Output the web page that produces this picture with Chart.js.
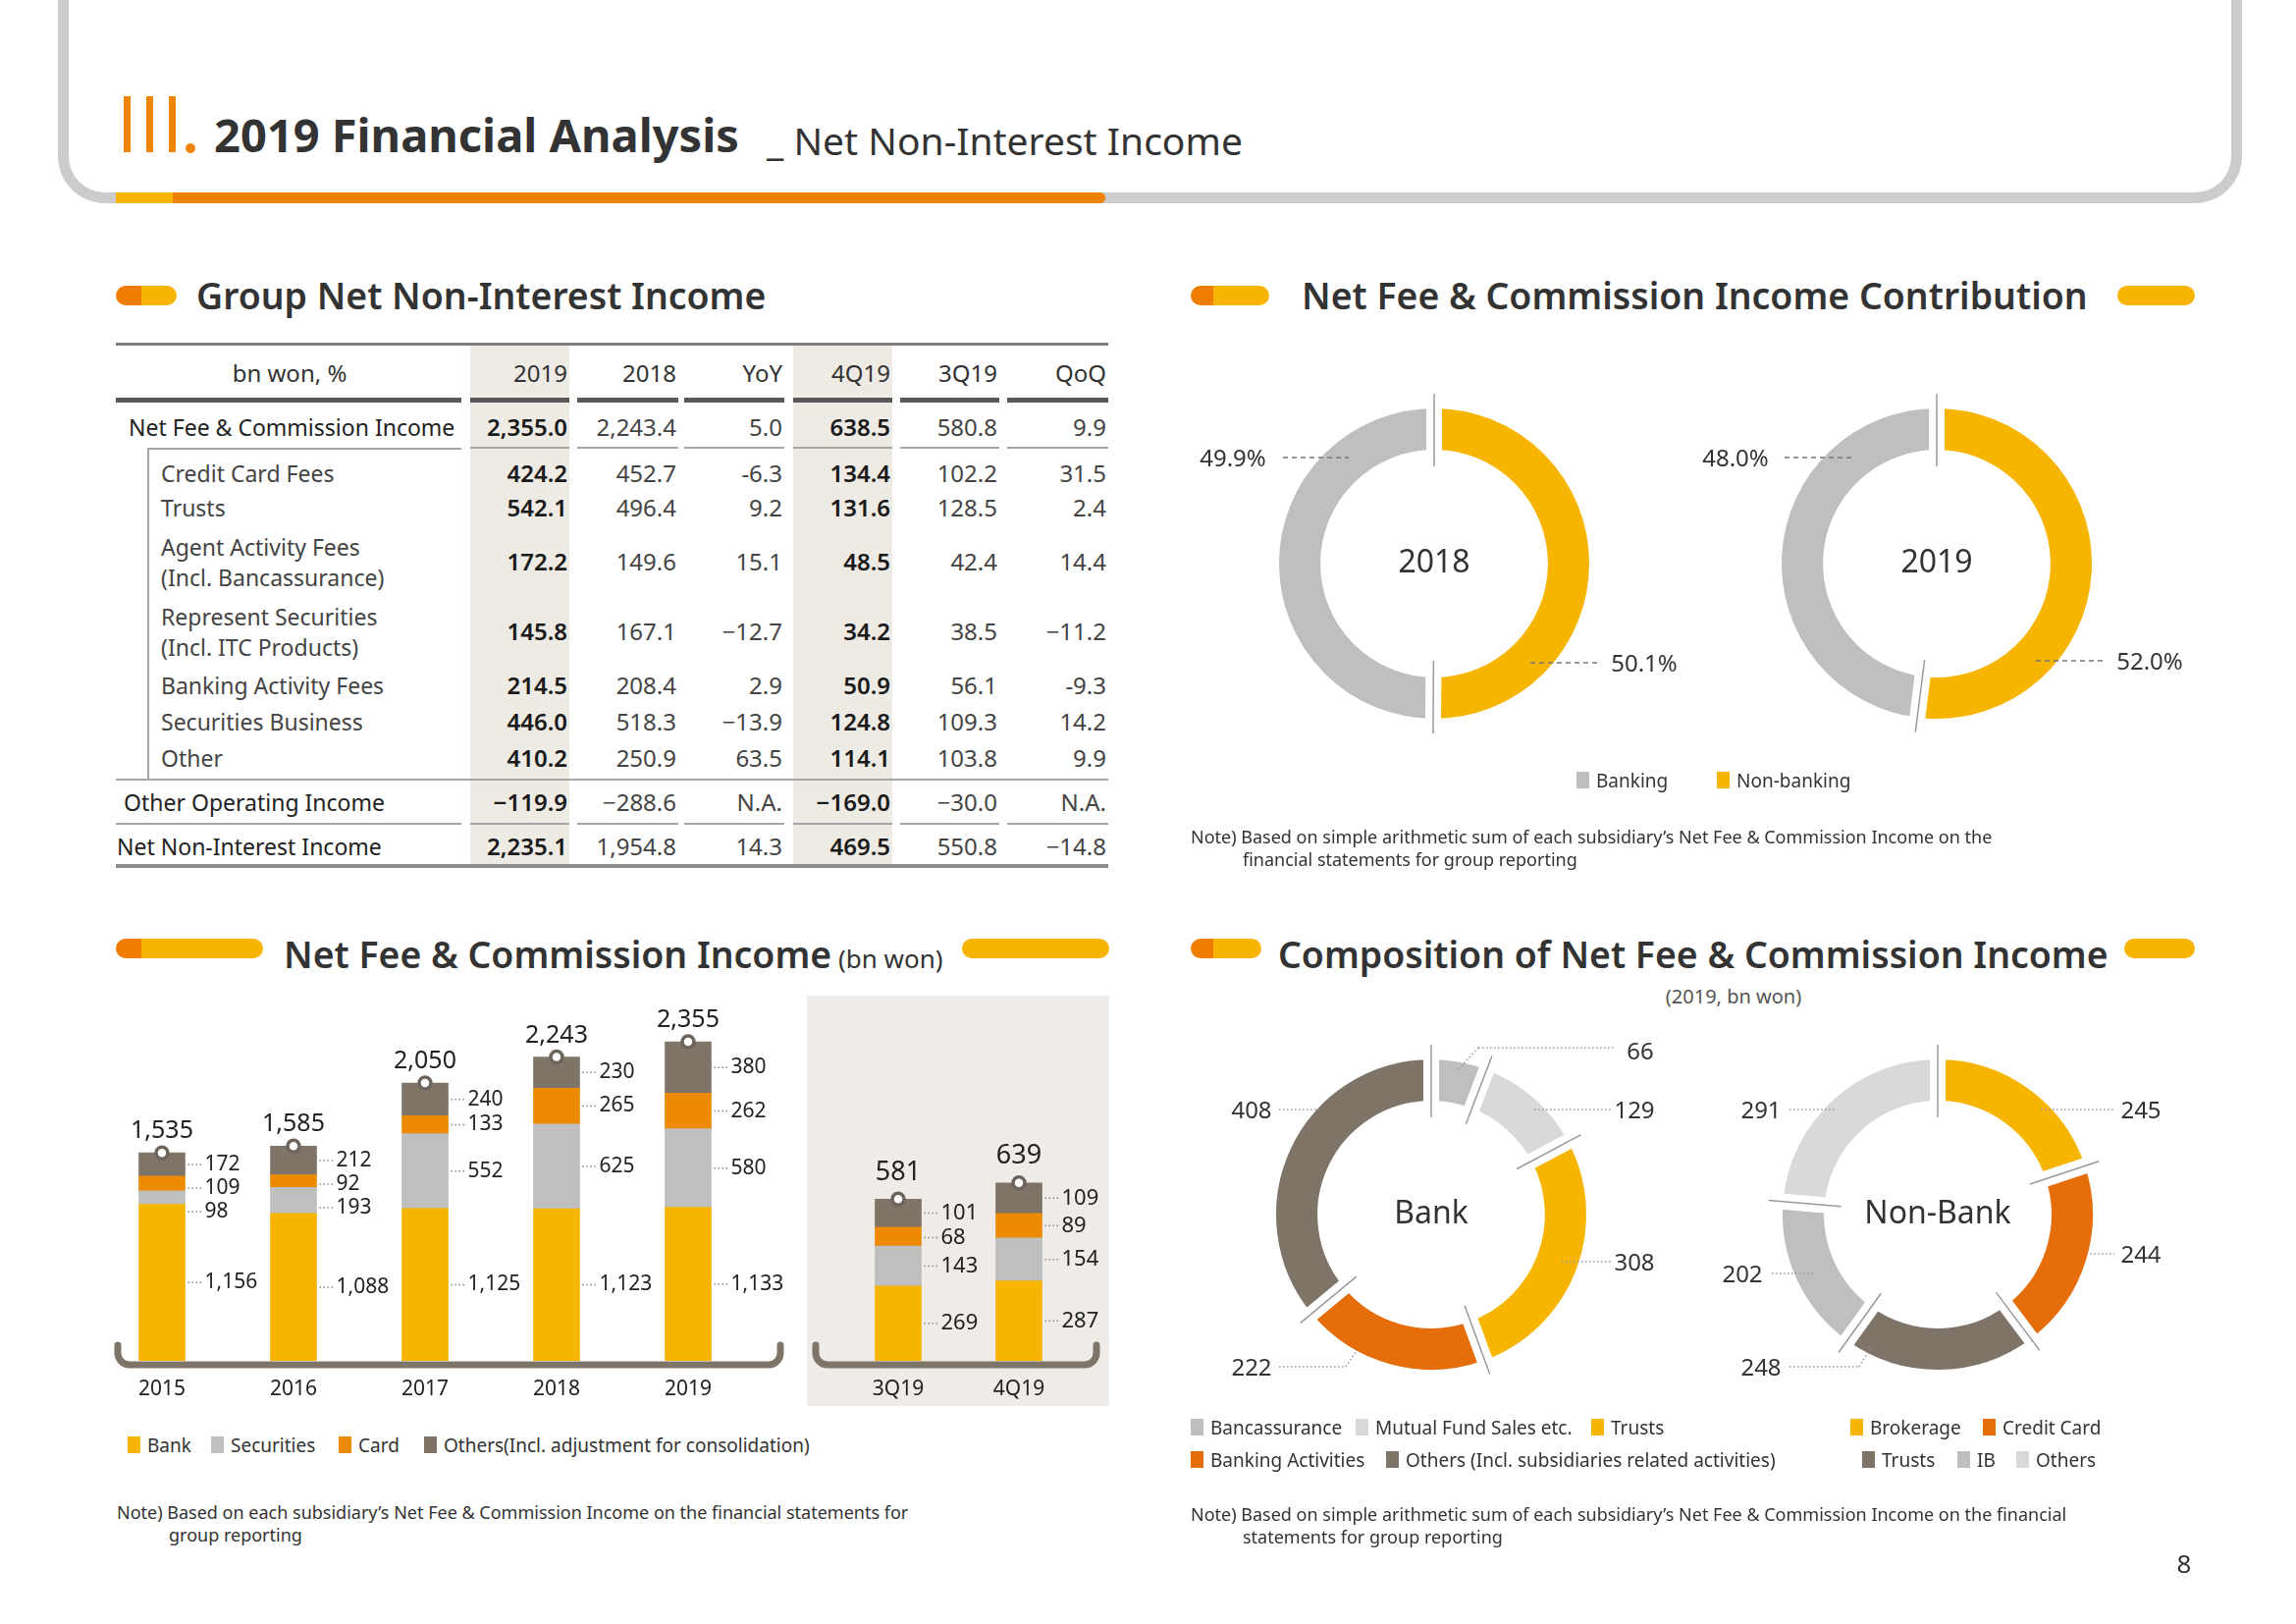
<!DOCTYPE html>
<html>
<head>
<meta charset="utf-8">
<script src="https://cdn.jsdelivr.net/npm/chart.js@4.4.1/dist/chart.umd.min.js"></script>
<style>
  body { margin: 0; background: #fff; }
  #page { position: relative; width: 2339px; height: 1654px; overflow: hidden; font-family: 'Noto Sans', sans-serif; color: #333; background: #fff; }
</style>
</head>
<body>
<div id="page"></div>
<script>
// --- data ---
const years = ['2015', '2016', '2017', '2018', '2019'];
const yearBank = [1156, 1088, 1125, 1123, 1133];
const yearSecurities = [98, 193, 552, 625, 580];
const yearCard = [109, 92, 133, 265, 262];
const yearOthers = [172, 212, 240, 230, 380];
const yearTotals = [1535, 1585, 2050, 2243, 2355];

const quarters = ['3Q19', '4Q19'];
const qBank = [269, 287];
const qSecurities = [143, 154];
const qCard = [68, 89];
const qOthers = [101, 109];
const qTotals = [581, 639];

const seriesNames = ['Bank', 'Securities', 'Card', 'Others(Incl. adjustment for consolidation)'];

const contribYears = ['2018', '2019'];
const contribParts = ['Non-banking', 'Banking'];
const contribNonBanking = [50.1, 52.0];
const contribBanking = [49.9, 48.0];

const bankParts = ['Bancassurance', 'Mutual Fund Sales etc.', 'Trusts', 'Banking Activities', 'Others (Incl. subsidiaries related activities)'];
const bankValues = [66, 129, 308, 222, 408];
const nonBankParts = ['Brokerage', 'Credit Card', 'Trusts', 'IB', 'Others'];
const nonBankValues = [245, 244, 248, 202, 291];

const tableCorner = 'bn won, %';
const tableCols = ['2019', '2018', 'YoY', '4Q19', '3Q19', 'QoQ'];
const tableRows = [
  'Net Fee & Commission Income',
  'Credit Card Fees',
  'Trusts',
  'Agent Activity Fees\n(Incl. Bancassurance)',
  'Represent Securities\n(Incl. ITC Products)',
  'Banking Activity Fees',
  'Securities Business',
  'Other',
  'Other Operating Income',
  'Net Non-Interest Income'
];
const tableValues = [
  ['2,355.0', '2,243.4', '5.0', '638.5', '580.8', '9.9'],
  ['424.2', '452.7', '-6.3', '134.4', '102.2', '31.5'],
  ['542.1', '496.4', '9.2', '131.6', '128.5', '2.4'],
  ['172.2', '149.6', '15.1', '48.5', '42.4', '14.4'],
  ['145.8', '167.1', '−12.7', '34.2', '38.5', '−11.2'],
  ['214.5', '208.4', '2.9', '50.9', '56.1', '-9.3'],
  ['446.0', '518.3', '−13.9', '124.8', '109.3', '14.2'],
  ['410.2', '250.9', '63.5', '114.1', '103.8', '9.9'],
  ['−119.9', '−288.6', 'N.A.', '−169.0', '−30.0', 'N.A.'],
  ['2,235.1', '1,954.8', '14.3', '469.5', '550.8', '−14.8']
];

// --- colours ---
const YELLOW = '#F7B500', ORANGE = '#EE8A00', DEEP = '#E66E0A', DARK = '#7F7468', GREY = '#BFBFBF', LIGHT = '#D9D9D9';
const barColors = [YELLOW, GREY, ORANGE, DARK];

Chart.defaults.font.family = "'Noto Sans', sans-serif";
Chart.defaults.color = '#222';

const page = document.getElementById('page');
function el(tag, css, text) {
  const d = document.createElement(tag);
  d.style.cssText = 'position:absolute;' + css;
  if (text != null) d.textContent = text;
  page.appendChild(d);
  return d;
}
function put(text, x, y, size, align, extra) {
  const tx = align === 'c' ? '-50%' : align === 'r' ? '-100%' : '0';
  return el('div', `left:${x}px;top:${y}px;font-size:${size}px;line-height:1;white-space:nowrap;transform:translate(${tx},-50%);` + (extra || ''), text);
}
function rect(x, y, w, h, bg, extra) {
  return el('div', `left:${x}px;top:${y}px;width:${w}px;height:${h}px;background:${bg};` + (extra || ''));
}
function pill(x, y, w, dot) {
  const bg = dot ? `linear-gradient(90deg,#EE7D00 0 ${dot}px,${YELLOW} ${dot}px)` : YELLOW;
  rect(x, y, w, 20, bg, 'border-radius:10px;');
}
function title(x, y, text, small) {
  const d = put(text, x, y, 37.4, 'l', 'font-weight:600;color:#333;');
  if (small) {
    const s = document.createElement('span');
    s.textContent = ' ' + small;
    s.style.cssText = 'font-size:26px;font-weight:400;';
    d.appendChild(s);
  }
}
function canvas(x, y, w, h) {
  const c = el('canvas', `left:${x}px;top:${y}px;width:${w}px;height:${h}px;`);
  c.width = w; c.height = h;
  return c;
}
function legendItem(x, y, color, text) {
  rect(x, y - 9, 13, 17, color);
  put(text, x + 20, y, 19, 'l', 'color:#333;');
}

// --- header ---
el('div', 'left:59px;top:-30px;width:2203px;height:226px;border:11px solid #CCCCCC;border-top:0;border-radius:0 0 48px 48px;');
rect(118, 196, 1008, 11, `linear-gradient(90deg,${YELLOW} 0 58px,#EE8200 58px)`, 'border-radius:0 6px 6px 0;');
[126, 149, 172].forEach(x => rect(x, 98, 7, 57, '#F08300'));
rect(189, 146, 10, 10, '#F08300', 'border-radius:5px;');
put('2019 Financial Analysis', 218, 137, 47, 'l', 'color:#333;font-weight:700;');
put('_ Net Non-Interest Income', 781, 142, 39, 'l', 'color:#333;');

// --- section titles ---
pill(118, 291, 62, 26);
title(200, 301, 'Group Net Non-Interest Income');
pill(1213, 291, 80, 23);
title(1326, 301, 'Net Fee & Commission Income Contribution');
pill(2157, 291, 79);
pill(118, 956, 150, 26);
title(289, 972, 'Net Fee & Commission Income', '(bn won)');
pill(980, 956, 150);
pill(1213, 956, 72, 23);
title(1302, 972, 'Composition of Net Fee & Commission Income');
pill(2164, 956, 72);
put('(2019, bn won)', 1766, 1015, 20, 'c', 'color:#555;');

// --- table ---
const colBox = [[479, 580], [588, 691], [697, 799], [808, 909], [917, 1018], [1026, 1129]];
const rowY = [435, 482, 517, 572, 643, 698, 735, 772, 817, 862];
const rowX = [131, 164, 164, 164, 164, 164, 164, 164, 126, 119];
[0, 3].forEach(c => rect(colBox[c][0], 352, colBox[c][1] - colBox[c][0], 529, '#EEEAE4'));
rect(118, 349, 1011, 3, '#7f7f7f');
put(tableCorner, 295, 380, 24, 'c');
tableCols.forEach((h, c) => put(h, colBox[c][1] - 2, 380, 24, 'r'));
const segs = [[118, 470]].concat(colBox);
segs.forEach(s => rect(s[0], 405, s[1] - s[0], 5, '#595959'));
colBox.forEach(s => rect(s[0], 455, s[1] - s[0], 1.5, '#a6a6a6'));
rect(150, 456, 320, 1.5, '#a6a6a6');
rect(150, 456, 1.5, 338, '#a6a6a6');
rect(118, 793, 1011, 1.5, '#a6a6a6');
segs.forEach(s => rect(s[0], 838, s[1] - s[0], 1.5, '#a6a6a6'));
rect(118, 880, 1011, 4, '#8c8c8c');
tableRows.forEach((lab, r) => {
  const lines = lab.split('\n');
  const sub = rowX[r] > 150;
  lines.forEach((ln, k) => put(ln, rowX[r], rowY[r] + (k - (lines.length - 1) / 2) * 31, 23, 'l', sub ? 'color:#444;' : 'color:#222;'));
  tableValues[r].forEach((v, c) => put(v, colBox[c][1] - 2, rowY[r], 24, 'r', (c === 0 || c === 3) ? 'color:#1a1a1a;font-weight:600;' : 'color:#444;'));
});

// --- bar charts ---
const fmt = v => v.toLocaleString('en-US');

const barLabels = {
  id: 'barLabels',
  afterDatasetsDraw(chart, args, o) {
    const { ctx, chartArea: a } = chart;
    const metas = chart.data.datasets.map((d, i) => chart.getDatasetMeta(i));
    ctx.save();
    // bracket under the bars
    const yb = a.bottom + 4, x0 = a.left + o.bracket[0], x1 = a.right + o.bracket[1];
    ctx.strokeStyle = DARK; ctx.lineWidth = 7; ctx.lineCap = 'round'; ctx.lineJoin = 'round';
    ctx.beginPath();
    ctx.moveTo(x0, yb - 20);
    ctx.arcTo(x0, yb, x0 + 14, yb, 12);
    ctx.arcTo(x1, yb, x1, yb - 20, 12);
    ctx.lineTo(x1, yb - 20);
    ctx.stroke();

    chart.data.labels.forEach((lab, i) => {
      const items = metas.map((m, d) => {
        const b = m.data[i];
        return { y: (b.y + b.base) / 2, text: fmt(chart.data.datasets[d].data[i]), right: b.x + b.width / 2 };
      }).reverse();
      for (let k = 1; k < items.length; k++) {
        if (items[k].y < items[k - 1].y + o.gap) items[k].y = items[k - 1].y + o.gap;
      }
      ctx.font = `${o.size}px 'Noto Sans'`;
      ctx.textBaseline = 'middle'; ctx.textAlign = 'left';
      items.forEach(it => {
        ctx.save();
        ctx.strokeStyle = '#8a8a8a'; ctx.lineWidth = 1.5; ctx.lineCap = 'butt'; ctx.setLineDash([1.5, 2.5]);
        ctx.beginPath(); ctx.moveTo(it.right + 3, it.y); ctx.lineTo(it.right + 17, it.y); ctx.stroke();
        ctx.restore();
        ctx.fillStyle = '#222';
        ctx.fillText(it.text, it.right + 20, it.y);
      });
      const top = metas[metas.length - 1].data[i];
      ctx.beginPath(); ctx.arc(top.x, top.y, 6, 0, Math.PI * 2);
      ctx.fillStyle = '#fff'; ctx.fill();
      ctx.lineWidth = 3.5; ctx.strokeStyle = '#6d655b'; ctx.stroke();
      ctx.fillStyle = '#222'; ctx.font = `${o.totalSize}px 'Noto Sans'`; ctx.textAlign = 'center';
      ctx.fillText(fmt(o.totals[i]), top.x, top.y - o.totalGap);
    });
    ctx.restore();
  }
};

function stackedBar(cv, labels, series, yMax, pad, o) {
  return new Chart(cv, {
    type: 'bar',
    data: {
      labels: labels,
      datasets: series.map((s, k) => ({ label: seriesNames[k], data: s, backgroundColor: barColors[k], barThickness: 47 }))
    },
    options: {
      responsive: false, animation: false, devicePixelRatio: 1,
      layout: { padding: pad },
      scales: {
        x: {
          stacked: true,
          grid: { display: false, drawTicks: false },
          border: { display: false },
          ticks: { color: '#222', font: { size: 21 }, padding: 16 },
          afterFit: s => { s.height = 54; }
        },
        y: { stacked: true, display: false, min: 0, max: yMax }
      },
      plugins: { legend: { display: false }, tooltip: { enabled: false }, barLabels: o }
    },
    plugins: [barLabels]
  });
}

rect(822, 1014, 308, 418, '#EFEBE6');
stackedBar(canvas(90, 960, 720, 480), years, [yearBank, yearSecurities, yearCard, yearOthers], 3000,
  { left: 8, right: 42, top: 12, bottom: 0 },
  { totals: yearTotals, bracket: [22, 27], gap: 24, size: 21, totalSize: 25, totalGap: 22 });
stackedBar(canvas(815, 960, 315, 480), quarters, [qBank, qSecurities, qCard, qOthers], 1460,
  { left: 38.5, right: 30.5, top: 12, bottom: 0 },
  { totals: qTotals, bracket: [-22.5, 17.5], gap: 25, size: 22, totalSize: 27, totalGap: 27 });

// bar legend
[130, 215, 345, 432].forEach((x, k) => legendItem(x, 1472, barColors[k], seriesNames[k]));
put('Note) Based on each subsidiary’s Net Fee & Commission Income on the financial statements for', 119, 1540, 18, 'l');
put('group reporting', 172, 1563, 18, 'l');

// --- doughnuts ---
const seams = {
  id: 'seams',
  afterDatasetsDraw(chart, args, o) {
    const ctx = chart.ctx;
    const bw = 16;
    let cx = 0, cy = 0;
    ctx.save();
    ctx.strokeStyle = '#9a9a9a'; ctx.lineWidth = 1.5;
    chart.getDatasetMeta(0).data.forEach(arc => {
      const p = arc.getProps(['x', 'y', 'startAngle', 'innerRadius', 'outerRadius'], true);
      cx = p.x; cy = p.y;
      const r0 = p.innerRadius + bw / 2 - 17, r1 = p.outerRadius - bw / 2 + 15;
      const c = Math.cos(p.startAngle), s = Math.sin(p.startAngle);
      ctx.beginPath(); ctx.moveTo(cx + c * r0, cy + s * r0); ctx.lineTo(cx + c * r1, cy + s * r1); ctx.stroke();
    });
    ctx.fillStyle = '#333'; ctx.font = "32px 'Noto Sans'"; ctx.textAlign = 'center'; ctx.textBaseline = 'middle';
    ctx.fillText(o.center, cx, cy);
    ctx.restore();
  }
};

function donut(cv, labels, values, colors, center) {
  return new Chart(cv, {
    type: 'doughnut',
    data: { labels: labels, datasets: [{ data: values, backgroundColor: colors, borderColor: '#fff', borderWidth: 16, hoverOffset: 0 }] },
    options: {
      responsive: false, animation: false, devicePixelRatio: 1,
      cutout: '65%',
      layout: { padding: 16 },
      plugins: { legend: { display: false }, tooltip: { enabled: false }, seams: { center: center } }
    },
    plugins: [seams]
  });
}

contribYears.forEach((yr, i) => {
  donut(canvas(i === 0 ? 1271 : 1783, 384, 380, 380), contribParts, [contribNonBanking[i], contribBanking[i]], [YELLOW, GREY], yr);
});
const CY = 7; // composition block vertical shift
donut(canvas(1268, 1040 + CY, 380, 380), bankParts, bankValues, [GREY, LIGHT, YELLOW, DEEP, DARK], 'Bank');
donut(canvas(1784, 1040 + CY, 380, 380), nonBankParts, nonBankValues, [YELLOW, DEEP, DARK, GREY, LIGHT], 'Non-Bank');

// leader lines
const NS = 'http://www.w3.org/2000/svg';
const svg = document.createElementNS(NS, 'svg');
svg.setAttribute('width', 2339); svg.setAttribute('height', 1654);
svg.style.cssText = 'position:absolute;left:0;top:0;pointer-events:none;';
page.appendChild(svg);
function line(x1, y1, x2, y2, dash, color) {
  const l = document.createElementNS(NS, 'line');
  l.setAttribute('x1', x1); l.setAttribute('y1', y1); l.setAttribute('x2', x2); l.setAttribute('y2', y2);
  l.setAttribute('stroke', color); l.setAttribute('stroke-width', 1.5); l.setAttribute('stroke-dasharray', dash);
  svg.appendChild(l);
}
const dashed = (y, a, b) => line(a, y, b, y, '5 4', '#777');
const dotted = (x1, y1, x2, y2) => line(x1, y1 + CY, x2, y2 + CY, '1.5 2.5', '#999');
const lab = (t, x, y) => put(t, x, y + CY, 24, 'c');

const pct = v => v.toFixed(1) + '%';
dashed(466, 1307, 1374); put(pct(contribBanking[0]), 1256, 466, 24, 'c');
dashed(675, 1559, 1627); put(pct(contribNonBanking[0]), 1675, 675, 24, 'c');
dashed(466, 1818, 1887); put(pct(contribBanking[1]), 1768, 466, 24, 'c');
dashed(673, 2074, 2143); put(pct(contribNonBanking[1]), 2190, 673, 24, 'c');

legendItem(1606, 795, GREY, 'Banking');
legendItem(1749, 795, YELLOW, 'Non-banking');
put('Note) Based on simple arithmetic sum of each subsidiary’s Net Fee & Commission Income on the', 1213, 852, 18, 'l');
put('financial statements for group reporting', 1266, 875, 18, 'l');

// composition labels
dotted(1506, 1060, 1645, 1060); dotted(1506, 1060, 1485, 1083); lab(fmt(bankValues[0]), 1671, 1063);
dotted(1563, 1123, 1641, 1123); lab(fmt(bankValues[1]), 1665, 1123);
dotted(1591, 1278, 1641, 1278); lab(fmt(bankValues[2]), 1665, 1278);
dotted(1303, 1385, 1371, 1385); dotted(1371, 1385, 1381, 1370); lab(fmt(bankValues[3]), 1275, 1385);
dotted(1303, 1123, 1346, 1123); lab(fmt(bankValues[4]), 1275, 1123);
dotted(2079, 1123, 2154, 1123); lab(fmt(nonBankValues[0]), 2181, 1123);
dotted(2129, 1270, 2154, 1270); lab(fmt(nonBankValues[1]), 2181, 1270);
dotted(1823, 1385, 1894, 1385); dotted(1894, 1385, 1905, 1367); lab(fmt(nonBankValues[2]), 1794, 1385);
dotted(1805, 1290, 1848, 1290); lab(fmt(nonBankValues[3]), 1775, 1290);
dotted(1823, 1123, 1869, 1123); lab(fmt(nonBankValues[4]), 1794, 1123);

// composition legends
legendItem(1213, 1454, GREY, bankParts[0]);
legendItem(1381, 1454, LIGHT, bankParts[1]);
legendItem(1621, 1454, YELLOW, bankParts[2]);
legendItem(1213, 1487, DEEP, bankParts[3]);
legendItem(1412, 1487, DARK, bankParts[4]);
legendItem(1885, 1454, YELLOW, nonBankParts[0]);
legendItem(2020, 1454, DEEP, nonBankParts[1]);
legendItem(1897, 1487, DARK, nonBankParts[2]);
legendItem(1994, 1487, GREY, nonBankParts[3]);
legendItem(2054, 1487, LIGHT, nonBankParts[4]);
put('Note) Based on simple arithmetic sum of each subsidiary’s Net Fee & Commission Income on the financial', 1213, 1542, 18, 'l');
put('statements for group reporting', 1266, 1565, 18, 'l');

put('8', 2225, 1592, 26, 'c');
</script>
</body>
</html>
